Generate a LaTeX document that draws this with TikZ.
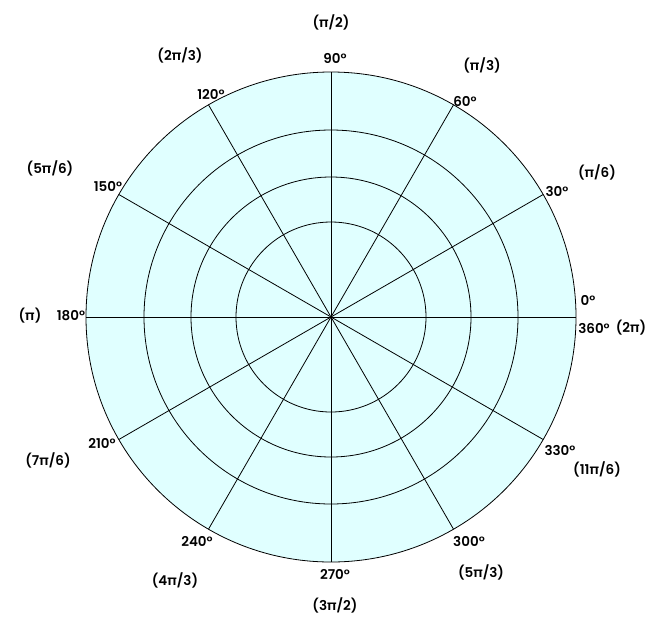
\documentclass[tikz,border=0pt]{standalone}
\usetikzlibrary{calc}
\usepackage{fontspec}
\setmainfont{Poppins}[UprightFont=* SemiBold]
\begin{document}
\begin{tikzpicture}[x=1pt,y=-1pt,lbl/.style={font=\fontsize{13.5}{14}\selectfont,inner sep=0pt}]
\useasboundingbox (0,0) rectangle (663,635);
\coordinate (c) at (331,317);
\fill[fill={rgb,255:red,224;green,255;blue,255}] (c) circle (245);
\foreach \r in {95,140,187,245} \draw[line width=0.8pt] (c) circle (\r);
\foreach \a in {0,30,...,150} \draw[line width=0.8pt] ($(c)+(\a:245)$) -- ($(c)+(\a+180:245)$);
\node[lbl] (l90) at (335,58) {90°};
\node[lbl] (p90) at (331,22) {(π/2)};
\node[lbl] (l60) at (465,101) {60°};
\node[lbl] (p60) at (482,65) {(π/3)};
\node[lbl] (l30) at (557,191) {30°};
\node[lbl] (p30) at (597,172) {(π/6)};
\node[lbl] (l0) at (588,300) {0°};
\node[lbl] (l360) at (594,328) {360°};
\node[lbl] (p360) at (631,328) {(2π)};
\node[lbl] (l330) at (560,450) {330°};
\node[lbl] (p330) at (597,469) {(11π/6)};
\node[lbl] (l300) at (469,541) {300°};
\node[lbl] (p300) at (481,572) {(5π/3)};
\node[lbl] (l270) at (335,574) {270°};
\node[lbl] (p270) at (335,605) {(3π/2)};
\node[lbl] (l240) at (197,541) {240°};
\node[lbl] (p240) at (175,580) {(4π/3)};
\node[lbl] (l210) at (102,443) {210°};
\node[lbl] (p210) at (48,460) {(7π/6)};
\node[lbl] (l180) at (71,316) {180°};
\node[lbl] (p180) at (30,316) {(π)};
\node[lbl] (l150) at (108,186) {150°};
\node[lbl] (p150) at (50,168) {(5π/6)};
\node[lbl] (l120) at (211,94) {120°};
\node[lbl] (p120) at (180,55) {(2π/3)};
\end{tikzpicture}
\end{document}
